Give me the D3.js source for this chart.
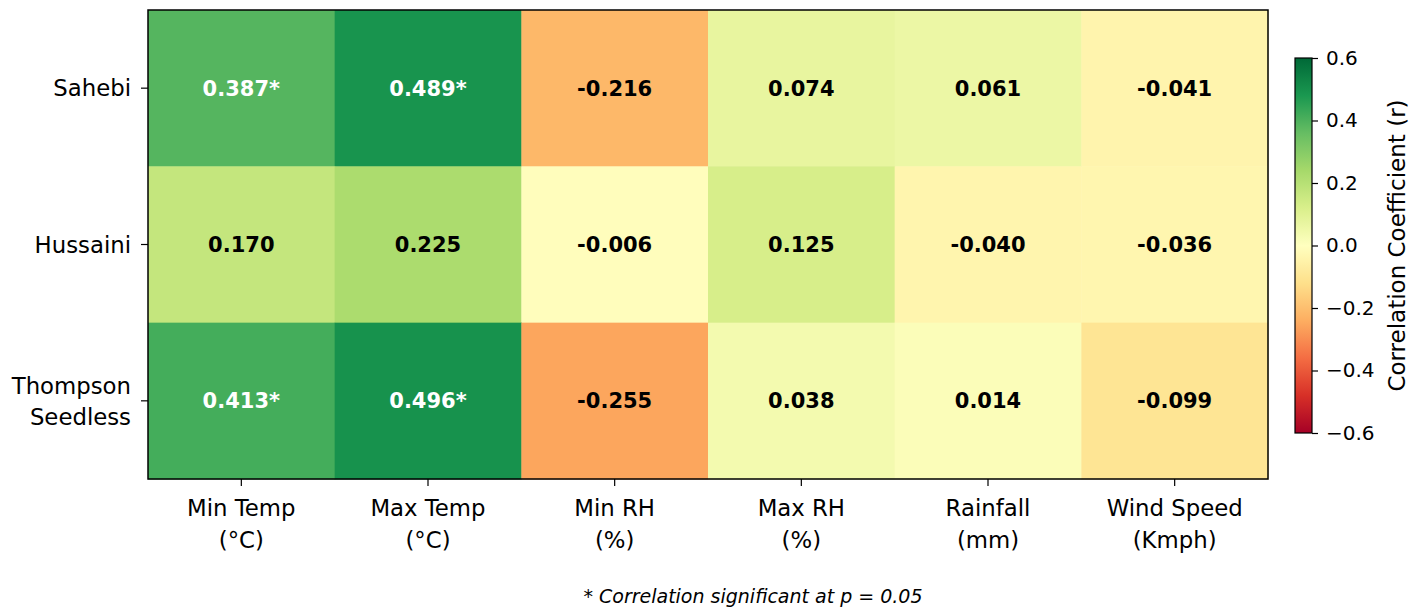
<!DOCTYPE html>
<html>
<head>
<meta charset="utf-8">
<script src="https://cdn.jsdelivr.net/npm/d3@7"></script>
<style>
  body { margin: 0; background: #fff; }
  text { font-family: "DejaVu Sans", sans-serif; }
</style>
</head>
<body>
<div id="chart"></div>
<script>
// cultivars (rows) and weather variables (columns)
var cultivars = ["Sahebi", "Hussaini", "Thompson Seedless"];
var variables = ["Min Temp\n(°C)", "Max Temp\n(°C)", "Min RH\n(%)", "Max RH\n(%)", "Rainfall\n(mm)", "Wind Speed\n(Kmph)"];

// correlation values, one array per cultivar
var sahebi = [0.387, 0.489, -0.216, 0.074, 0.061, -0.041];
var hussaini = [0.170, 0.225, -0.006, 0.125, -0.040, -0.036];
var thompson = [0.413, 0.496, -0.255, 0.038, 0.014, -0.099];
var significant = [[true, true, false, false, false, false],
                   [false, false, false, false, false, false],
                   [true, true, false, false, false, false]];

var cbTicks = [-0.6, -0.4, -0.2, 0.0, 0.2, 0.4, 0.6];
var footnote = "* Correlation significant at p = 0.05";

var rows = [sahebi, hussaini, thompson];

var width = 1419, height = 610;
var m = { left: 148, top: 10, right: 1268, bottom: 479 };

var svg = d3.select("#chart").append("svg")
    .attr("width", width)
    .attr("height", height);

// RdYlGn like matplotlib (linear between brewer colours)
var rdylgn = ["#a50026", "#d73027", "#f46d43", "#fdae61", "#fee08b", "#ffffbf",
              "#d9ef8b", "#a6d96a", "#66bd63", "#1a9850", "#006837"];
var color = d3.scaleLinear()
    .domain(d3.range(11).map(function (i) { return -0.6 + i * 1.2 / 10; }))
    .range(rdylgn)
    .interpolate(d3.interpolateRgb)
    .clamp(true);

var x = d3.scaleBand().domain(d3.range(variables.length)).range([m.left, m.right]);
var y = d3.scaleBand().domain(d3.range(cultivars.length)).range([m.top, m.bottom]);

var cells = [];
rows.forEach(function (r, i) {
    r.forEach(function (v, j) {
        cells.push({ row: i, col: j, v: v, sig: significant[i][j] });
    });
});

svg.append("g").selectAll("rect")
    .data(cells)
    .enter()
    .append("rect")
    .attr("x", function (d) { return x(d.col); })
    .attr("y", function (d) { return y(d.row); })
    .attr("width", x.bandwidth() + 0.5)
    .attr("height", y.bandwidth() + 0.5)
    .attr("fill", function (d) { return color(d.v); });

svg.append("g").selectAll("text")
    .data(cells)
    .enter()
    .append("text")
    .attr("x", function (d) { return x(d.col) + x.bandwidth() / 2; })
    .attr("y", function (d) { return y(d.row) + y.bandwidth() / 2; })
    .attr("dy", "0.36em")
    .attr("text-anchor", "middle")
    .attr("font-size", "21px")
    .attr("font-weight", "bold")
    .attr("fill", function (d) { return d.sig ? "#fff" : "#000"; })
    .text(function (d) { return d.v.toFixed(3) + (d.sig ? "*" : ""); });

// frame
svg.append("rect")
    .attr("x", m.left).attr("y", m.top)
    .attr("width", m.right - m.left).attr("height", m.bottom - m.top)
    .attr("fill", "none").attr("stroke", "#000").attr("stroke-width", 1.5);

// x axis
var xAxis = svg.append("g");
variables.forEach(function (lab, j) {
    var cx = x(j) + x.bandwidth() / 2;
    xAxis.append("line")
        .attr("x1", cx).attr("x2", cx)
        .attr("y1", m.bottom).attr("y2", m.bottom + 7)
        .attr("stroke", "#000").attr("stroke-width", 1.2);
    var t = xAxis.append("text")
        .attr("x", cx).attr("y", m.bottom + 37)
        .attr("text-anchor", "middle")
        .attr("font-size", "22.8px");
    lab.split("\n").forEach(function (part, k) {
        t.append("tspan").attr("x", cx).attr("dy", k === 0 ? 0 : "1.4em").text(part);
    });
});

// y axis
var yAxis = svg.append("g");
cultivars.forEach(function (lab, i) {
    var cy = y(i) + y.bandwidth() / 2;
    yAxis.append("line")
        .attr("x1", m.left - 7).attr("x2", m.left)
        .attr("y1", cy).attr("y2", cy)
        .attr("stroke", "#000").attr("stroke-width", 1.2);
    var parts = lab.split(" ");
    var t = yAxis.append("text")
        .attr("x", m.left - 17)
        .attr("text-anchor", "end")
        .attr("font-size", "22.8px");
    parts.forEach(function (part, k) {
        t.append("tspan")
            .attr("x", m.left - 17)
            .attr("y", cy + (k - (parts.length - 1) / 2) * 31)
            .attr("dy", "0.36em")
            .text(part);
    });
});

// colorbar
var cb = { x: 1295, w: 17, top: 58, bottom: 433 };
var cbScale = d3.scaleLinear().domain([-0.6, 0.6]).range([cb.bottom, cb.top]);

var defs = svg.append("defs");
var grad = defs.append("linearGradient")
    .attr("id", "cbgrad")
    .attr("x1", 0).attr("y1", 1).attr("x2", 0).attr("y2", 0);
d3.range(0, 1.0001, 0.02).forEach(function (t) {
    grad.append("stop")
        .attr("offset", t)
        .attr("stop-color", color(-0.6 + t * 1.2));
});

svg.append("rect")
    .attr("x", cb.x).attr("y", cb.top)
    .attr("width", cb.w).attr("height", cb.bottom - cb.top)
    .attr("fill", "url(#cbgrad)")
    .attr("stroke", "#000").attr("stroke-width", 1.2);

var cbAxis = svg.append("g")
    .attr("transform", "translate(" + (cb.x + cb.w) + ",0)")
    .call(d3.axisRight(cbScale).tickValues(cbTicks).tickSize(6).tickPadding(8)
        .tickFormat(function (d) { return d3.format(".1f")(d).replace("-", "\u2212"); }));
cbAxis.select(".domain").remove();
cbAxis.selectAll("line").attr("stroke-width", 1.2);
cbAxis.selectAll("text")
    .attr("font-size", "20px")
    .attr("font-family", "DejaVu Sans, sans-serif")
    .attr("fill", "#000");

svg.append("text")
    .attr("transform", "translate(1397," + ((cb.top + cb.bottom) / 2) + ") rotate(-90)")
    .attr("text-anchor", "middle")
    .attr("dy", "0.36em")
    .attr("font-size", "23px")
    .text("Correlation Coefficient (r)");

// footnote
svg.append("text")
    .attr("x", 753).attr("y", 603)
    .attr("text-anchor", "middle")
    .attr("font-size", "19px")
    .attr("font-style", "italic")
    .text(footnote);
</script>
</body>
</html>
